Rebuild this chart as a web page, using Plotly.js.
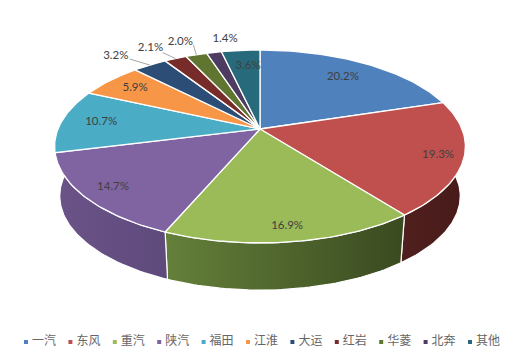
<!DOCTYPE html>
<html>
<head>
<meta charset="utf-8">
<script src="https://cdn.plot.ly/plotly-3.0.1.min.js"></script>
<style>html,body{margin:0;padding:0;background:#fff}</style>
</head>
<body>
<div id="chart" style="width:519px;height:356px"></div>
<script>
const categories = ['一汽','东风','重汽','陕汽','福田','江淮','大运','红岩','华菱','北奔','其他'];
const shares = [20.2,19.3,16.9,14.7,10.7,5.9,3.2,2.1,2.0,1.4,3.6];
const topColors = ['#4F81BD','#C0504D','#9BBB59','#8064A2','#4BACC6','#F79646','#2C4D75','#772C2A','#5F7530','#4D3B62','#276A7C'];
// Only the slices facing the viewer show a side wall
const wallSlices = [1,2,3];
const wallLeft  = ['#50201E','#64803A','#6B5388'];
const wallRight = ['#471A19','#3A4A20','#5F4A7C'];
const labelRadius = [0.77,0.88,0.88,0.86,0.80,0.82,1,1,1,1,0.80];
const labelShiftX = [0,0,0,0,0,0,-34,-25,-16,11,4];
const labelShiftY = [0,0,0,0,0,0,-9,-10,-13,-13,2];
const leaderSlices = [6,7,8];
const leaderStartX = [14,12,13];
const leaderStartY = [3,4,3];

// Perspective projection of the pie disc onto the page
const apexX = 260, apexY = 129, spanX = 202, spanY = 93.3, persp = 0.181, depth = 50, baseScale = 0.975;
function project(r, theta, isBase) {
  const X = r * Math.sin(theta), Y = -r * Math.cos(theta), w = 1 - persp * Y;
  const s = isBase ? baseScale : 1;
  return [apexX + s * spanX * X / w, apexY + (isBase ? depth : 0) + s * spanY * Y / w];
}
const total = shares.reduce((a, b) => a + b, 0);
const edges = [0];
shares.forEach(v => edges.push(edges[edges.length - 1] + v / total * 2 * Math.PI));

function arc(from, to, isBase) {
  const pts = [], n = Math.max(6, Math.ceil((to - from) / 0.02));
  for (let k = 0; k <= n; k++) pts.push(project(1, from + (to - from) * k / n, isBase));
  return pts;
}
const traces = [];
// walls; the last one runs on past its slice to the silhouette of the disc
const wallOverrun = 0.5;
wallSlices.forEach((i, j) => {
  const end = edges[i + 1] + (j === wallSlices.length - 1 ? wallOverrun : 0);
  const rim = arc(edges[i], end, false), base = arc(edges[i], end, true).reverse(), pts = rim.concat(base);
  pts.push(rim[0]);
  traces.push({type:'scatter', mode:'lines', x:pts.map(p=>p[0]), y:pts.map(p=>p[1]), fill:'toself',
    fillgradient:{type:'horizontal', colorscale:[[0,wallLeft[j]],[1,wallRight[j]]]},
    line:{color:'#ffffff', width:1.2}, hoverinfo:'skip', showlegend:false});
});
// top surface
shares.forEach((v, i) => {
  const rim = arc(edges[i], edges[i + 1], false), a = project(0, 0, false), pts = [a].concat(rim, [a]);
  traces.push({type:'scatter', mode:'lines', x:pts.map(p=>p[0]), y:pts.map(p=>p[1]), fill:'toself',
    fillcolor:topColors[i], line:{color:'#ffffff', width:1.3}, name:categories[i], hoverinfo:'name', showlegend:false});
});
// labels
const mids = shares.map((v, i) => (edges[i] + edges[i + 1]) / 2);
const labelPts = mids.map((m, i) => {
  const p = project(labelRadius[i], m, false);
  return [p[0] + labelShiftX[i], p[1] + labelShiftY[i]];
});
// leader lines
leaderSlices.forEach((i, j) => {
  const rim = project(1, mids[i], false);
  const from = [labelPts[i][0] + leaderStartX[j], labelPts[i][1] + leaderStartY[j]];
  traces.push({type:'scatter', mode:'lines', x:[from[0], rim[0]], y:[from[1], rim[1]],
    line:{color:'#a6a6a6', width:1}, hoverinfo:'skip', showlegend:false});
});
traces.push({type:'scatter', mode:'text', x:labelPts.map(p=>p[0]), y:labelPts.map(p=>p[1]),
  text:shares.map(v=>v.toFixed(1)+'%'), textposition:'middle center',
  textfont:{family:'Lato, "Liberation Sans", sans-serif', size:11.5, color:'#404040'},
  hoverinfo:'skip', showlegend:false});
// legend row: a key and a name for every category
const legendX0 = 26, legendStep = 44.4, legendY = 342, legendGap = 6;
traces.push({type:'scatter', mode:'markers', x:categories.map((c,i)=>legendX0+i*legendStep), y:categories.map(()=>legendY),
  marker:{symbol:'square', size:4, color:topColors}, hoverinfo:'skip', showlegend:false});
traces.push({type:'scatter', mode:'text', x:categories.map((c,i)=>legendX0+legendGap+i*legendStep), y:categories.map(()=>legendY),
  text:categories, textposition:'middle right',
  textfont:{family:'"Noto Sans CJK SC", sans-serif', size:12, color:'#666666'},
  hoverinfo:'skip', showlegend:false});

const layout = {
  width:519, height:356, margin:{l:0,r:0,t:0,b:0},
  paper_bgcolor:'#ffffff', plot_bgcolor:'#ffffff',
  xaxis:{range:[0,519], visible:false, fixedrange:true},
  yaxis:{range:[356,0], visible:false, fixedrange:true},
  showlegend:false
};
Plotly.newPlot('chart', traces, layout, {displayModeBar:false, staticPlot:true});
</script>
</body>
</html>
